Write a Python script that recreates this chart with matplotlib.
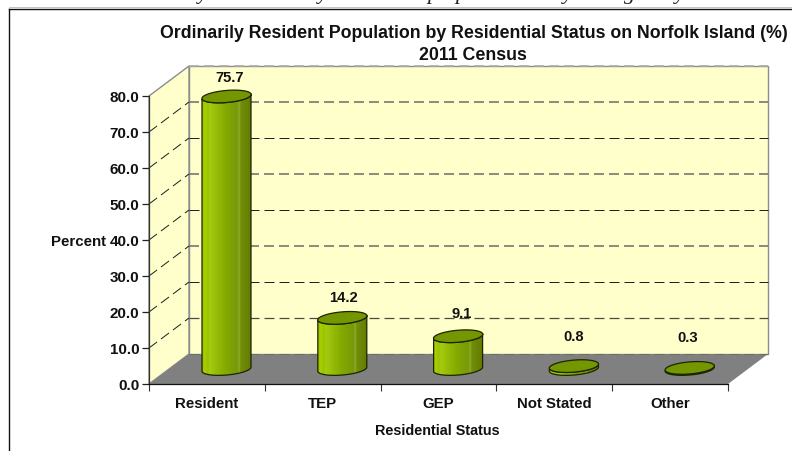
import numpy as np
import matplotlib
matplotlib.use('Agg')
import matplotlib.pyplot as plt
from matplotlib.colors import LinearSegmentedColormap
from matplotlib.lines import Line2D
from matplotlib.patches import Polygon, PathPatch
from matplotlib.path import Path

categories = ['Resident', 'TEP', 'GEP', 'Not Stated', 'Other']
values = [75.7, 14.2, 9.1, 0.8, 0.3]
yticks = [0, 10, 20, 30, 40, 50, 60, 70, 80]

# label shift from top of bar, in pixels
label_dx = [3, 1, 4, 0, -2]
label_dy = [18, 20, 22, 29, 30]

# what is left of the cropped line above the chart
cut_glyphs = ['y', 'y', 'p', 'p', 'y', 'g', 'y']
cut_x = [203, 323, 433, 461, 568, 630, 680]

# gridline colour and width at each value on the back wall
grid_cols = ['#4a4a40', '#222222', '#77776a', '#222222', '#77776a', '#222222', '#77776a', '#aaaaaa']
grid_lws = [0.9, 0.72, 1.2, 0.72, 1.2, 0.72, 1.2, 1.2]

plt.rcParams['font.family'] = ['Liberation Sans', 'DejaVu Sans']
plt.rcParams['font.weight'] = 'bold'

W, H = 792, 451
fig = plt.figure(figsize=(W / 100, H / 100), dpi=100)
ax = fig.add_axes([149 / W, (H - 384) / H, 579 / W, 288 / H])
ax.set_xlim(0, len(categories))
ax.set_ylim(0, 80)

# pixels to data units
px = len(categories) / 579.0
py = 80 / 288.0
depth_x = 40 * px
depth_y = 30 * py
n = len(categories)

wall = '#ffffcc'
floor = '#808080'
edge = '#8c8c8c'

ax.patch.set_visible(False)
ax.add_patch(Polygon([(depth_x, depth_y), (n + depth_x, depth_y), (n + depth_x, 80 + depth_y), (depth_x, 80 + depth_y)],
                     fc=wall, ec=edge, lw=1, clip_on=False, zorder=1))
ax.add_patch(Polygon([(0, 0), (depth_x, depth_y), (depth_x, 80 + depth_y), (0, 80)],
                     fc=wall, ec=edge, lw=1, clip_on=False, zorder=1))
ax.add_patch(Polygon([(0, 0), (n, 0), (n + depth_x, depth_y), (depth_x, depth_y)],
                     fc=floor, ec='none', clip_on=False, zorder=1.2))

for v, col, lw in zip(yticks[1:], grid_cols, grid_lws):
    # dash length stays 10px on, 5px off whatever the width
    dash = (0, (7.2 / lw, 3.6 / lw))
    ax.plot([depth_x, n + depth_x], [v + depth_y, v + depth_y], color=col, lw=lw, ls=dash,
            clip_on=False, zorder=1.5)
    if v < 80:
        ax.plot([0, depth_x], [v, v + depth_y], color='#222222', lw=0.72, ls=(0, (10, 5)),
                clip_on=False, zorder=1.5)
ax.plot([depth_x, n + depth_x], [depth_y, depth_y], color='#6f6f60', lw=0.72, ls=(0, (10, 5)),
        clip_on=False, zorder=1.5)

# cylinder colours, left to right
cyl = LinearSegmentedColormap.from_list('cyl', [
    (0.0, '#9abb00'), (0.05, '#a8d000'), (0.12, '#98c200'), (0.14, '#a6cc10'), (0.45, '#86ac00'),
    (0.72, '#76980a'), (0.74, '#93ac30'), (0.78, '#728f08'), (1.0, '#627a00')])
grad = np.linspace(0, 1, 128).reshape(1, -1)

a_px, b_px, tilt = 24.7, 6.0, np.deg2rad(5)


def ellipse(cx, cy, t):
    xp = a_px * np.cos(t) * np.cos(tilt) - b_px * np.sin(t) * np.sin(tilt)
    yp = a_px * np.cos(t) * np.sin(tilt) + b_px * np.sin(t) * np.cos(tilt)
    return cx + xp * px, cy + yp * py


for i, v in enumerate(values):
    cx = i + 0.5 + depth_x * 0.49
    base = depth_y * 0.5
    top = v + base
    t_front = np.linspace(np.pi + tilt * 0.9, 2 * np.pi + tilt * 0.9, 60)
    bx, by = ellipse(cx, base, t_front)
    tx, ty = ellipse(cx, top, t_front[::-1])
    body = np.column_stack([np.r_[bx, tx], np.r_[by, ty]])
    outline = PathPatch(Path(np.r_[body, body[:1]], closed=True), fc='none', ec='#1c2400', lw=0.9,
                        clip_on=False, zorder=3.2)
    ax.add_patch(outline)
    im = ax.imshow(grad, cmap=cyl, aspect='auto', vmin=0, vmax=1, zorder=3,
                   extent=[cx - a_px * px, cx + a_px * px, base - 8 * py, top + 8 * py])
    im.set_clip_box(fig.bbox)
    im.set_clip_path(PathPatch(Path(np.r_[body, body[:1]], closed=True), transform=ax.transData))
    ex, ey = ellipse(cx, top, np.linspace(0, 2 * np.pi, 100))
    ax.add_patch(Polygon(np.column_stack([ex, ey]), fc='#749600', ec='#1c2400', lw=0.9,
                         clip_on=False, zorder=3.4))
    ax.annotate('%.1f' % v, (cx, top), xytext=(label_dx[i] * 0.72, label_dy[i] * 0.72),
                textcoords='offset points', ha='center', va='center', fontsize=10.6,
                color='#111111', annotation_clip=False, zorder=5)

ax.set_xlim(0, n)
ax.set_ylim(0, 80)

for s in ['top', 'right']:
    ax.spines[s].set_visible(False)
ax.spines['left'].set_color('#333333')
ax.spines['bottom'].set_color('#111111')
ax.spines['left'].set_linewidth(0.9)
ax.spines['bottom'].set_linewidth(0.9)
ax.set_yticks(yticks)
ax.set_yticklabels(['%.1f' % t for t in yticks], fontsize=10.9, color='#111111', va='center_baseline')
ax.set_xticks(range(n + 1))
ax.set_xticklabels([])
ax.set_xticks(np.arange(n) + 0.5, minor=True)
ax.set_xticklabels(categories, minor=True, fontsize=10.8, color='#111111')
ax.tick_params(axis='x', which='minor', length=0, pad=9)
ax.tick_params(axis='x', which='major', length=5, width=0.8, color='#333333')
ax.tick_params(axis='y', length=5, width=0.9, pad=2, color='#222222')

fig.text(474 / W, 1 - 34 / H, 'Ordinarily Resident Population by Residential Status on Norfolk Island (%)',
         ha='center', va='center', fontsize=12.75, color='#111111')
fig.text(473 / W, 1 - 56 / H, '2011 Census', ha='center', va='center', fontsize=12.75, color='#111111')
fig.text(78 / W, 1 - 242 / H, 'Percent', ha='center', va='center', fontsize=10.8, color='#111111')
fig.text(437 / W, 1 - 431 / H, 'Residential Status', ha='center', va='center', fontsize=10.4, color='#111111')

for g, x in zip(cut_glyphs, cut_x):
    fig.text(x / W, 1.002, g, ha='center', va='baseline', fontsize=16, style='italic', weight='normal',
             family='Liberation Serif', color='#222222')

fig.add_artist(Line2D([8.8 / W, 8.8 / W], [0, 1 - 8.5 / H], color='#111111', lw=1))
fig.add_artist(Line2D([8.8 / W, 1], [1 - 8.5 / H, 1 - 8.5 / H], color='#111111', lw=1))
fig.add_artist(Line2D([8.8 / W, 1], [1 - 7.2 / H, 1 - 7.2 / H], color='#aaaaaa', lw=0.5))

fig.savefig('out.png', dpi=100)
